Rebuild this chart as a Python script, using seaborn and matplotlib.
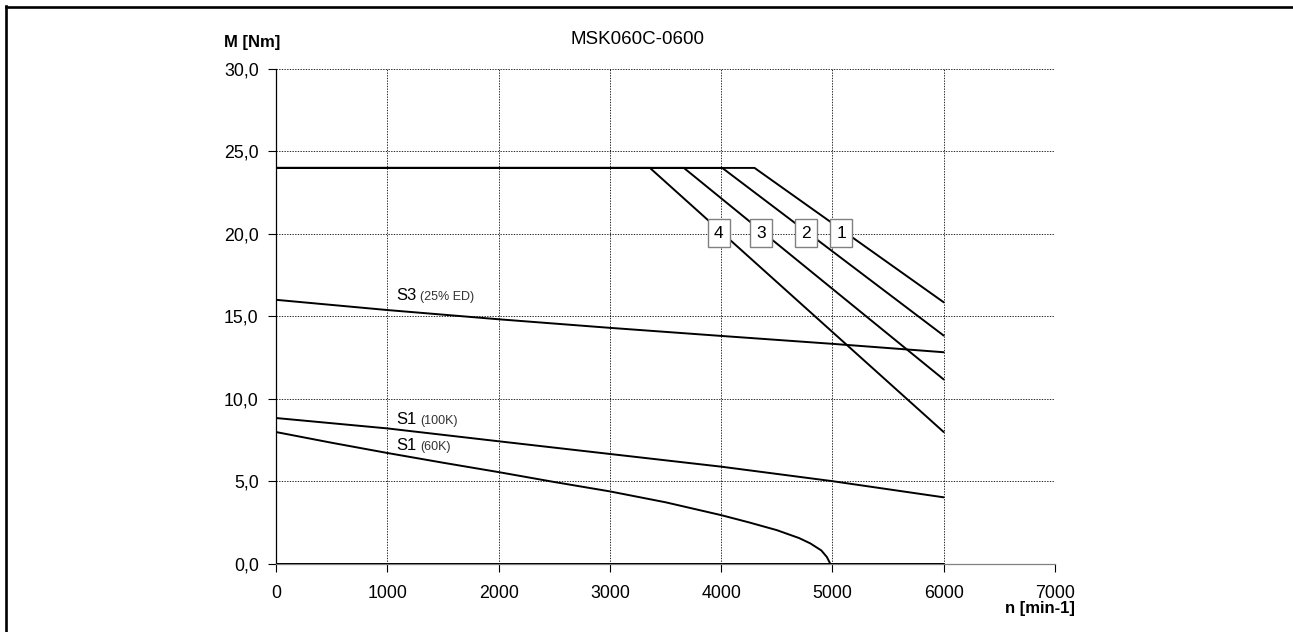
import matplotlib
matplotlib.use("Agg")
import matplotlib.pyplot as plt
from matplotlib.lines import Line2D
import seaborn as sns
import pandas as pd

# ---------------- data ----------------
title = "MSK060C-0600"
y_label = "M [Nm]"
x_label = "n [min-1]"

x_ticks = [0, 1000, 2000, 3000, 4000, 5000, 6000, 7000]
x_tick_labels = ["0", "1000", "2000", "3000", "4000", "5000", "6000", "7000"]
y_ticks = [0, 5, 10, 15, 20, 25, 30]
y_tick_labels = ["0,0", "5,0", "10,0", "15,0", "20,0", "25,0", "30,0"]

# peak torque curves (1..4)
c1_n = [0, 4300, 6000]
c1_m = [24.0, 24.0, 15.85]
c2_n = [0, 4010, 6000]
c2_m = [24.0, 24.0, 13.83]
c3_n = [0, 3665, 6000]
c3_m = [24.0, 24.0, 11.17]
c4_n = [0, 3360, 6000]
c4_m = [24.0, 24.0, 7.98]

# S3 (25% ED)
s3_n = [0, 1000, 2000, 3000, 4000, 5000, 6000]
s3_m = [16.0, 15.38, 14.82, 14.3, 13.81, 13.33, 12.82]

# S1 (100K)
s1_100_n = [0, 1000, 2000, 3000, 4000, 5000, 6000]
s1_100_m = [8.83, 8.2, 7.42, 6.65, 5.88, 5.0, 4.02]

# S1 (60K)
s1_60_n = [0, 500, 1000, 1500, 2000, 2500, 3000, 3500, 4000, 4250, 4500, 4700, 4800, 4900, 4950, 4980]
s1_60_m = [7.98, 7.33, 6.71, 6.12, 5.55, 4.95, 4.38, 3.72, 2.94, 2.5, 2.03, 1.55, 1.23, 0.8, 0.4, 0.0]

# zero baseline
base_n = [0, 6000]
base_m = [0.0, 0.0]

box_labels = ["4", "3", "2", "1"]
box_n = [3980, 4356, 4760, 5080]
box_m = [20.05, 20.05, 20.05, 20.05]

# ---------------- plotting ----------------
sns.set_theme(style="white")
plt.rcParams["font.family"] = ["Liberation Sans", "DejaVu Sans"]
plt.rcParams["text.color"] = "black"

fig = plt.figure(figsize=(12.93, 6.32), dpi=100)
ax = fig.add_axes([276 / 1293, 1 - 563.6 / 632, (1055 - 276) / 1293, (563.6 - 69) / 632])

series = [
    (c1_n, c1_m), (c2_n, c2_m), (c3_n, c3_m), (c4_n, c4_m),
    (s3_n, s3_m), (s1_100_n, s1_100_m), (s1_60_n, s1_60_m), (base_n, base_m),
]
for n, m in series:
    df = pd.DataFrame({"n": n, "m": m})
    sns.lineplot(data=df, x="n", y="m", ax=ax, color="black", linewidth=1.4,
                 sort=False, estimator=None, zorder=3)

ax.set_xlim(0, 7000)
ax.set_ylim(0, 30)
ax.set_xticks(x_ticks)
ax.set_xticklabels(x_tick_labels)
ax.set_yticks(y_ticks)
ax.set_yticklabels(y_tick_labels)
ax.set_xlabel("")
ax.set_ylabel("")

ax.grid(True, color="black", linestyle=(0, (1.6, 1.6)), linewidth=0.6)
ax.set_axisbelow(True)
ax.tick_params(axis="both", direction="out", length=5.5, width=0.8, color="black",
               labelsize=12.8, labelcolor="black")
ax.tick_params(axis="x", pad=10, bottom=True)
ax.tick_params(axis="y", pad=7, left=True)

for s in ["top", "right"]:
    ax.spines[s].set_visible(False)
ax.spines["left"].set_color("black")
ax.spines["left"].set_linewidth(0.9)
ax.spines["bottom"].set_color("#808080")
ax.spines["bottom"].set_linewidth(0.9)

# boxed curve numbers
for lab, x, y in zip(box_labels, box_n, box_m):
    ax.text(x, y, lab, ha="center", va="center", fontsize=12.5, zorder=5,
            bbox=dict(boxstyle="square,pad=0.36", fc="white", ec="#808080", lw=1.0))

# curve labels
def two_part(x, y, big, small):
    t = ax.annotate(big, (x, y), fontsize=12, ha="left", va="baseline", zorder=5)
    ax.annotate(small, xy=(1, 0), xycoords=t, xytext=(2.5, 0), textcoords="offset points",
                fontsize=9, ha="left", va="bottom", color="#333333", zorder=5)

two_part(1080, 16.0, "S3", "(25% ED)")
two_part(1080, 8.45, "S1", "(100K)")
two_part(1080, 6.87, "S1", "(60K)")

# title and axis captions
fig.text(637 / 1293, 1 - 40 / 632, title, ha="center", va="center", fontsize=13.5)
fig.text(224 / 1293, 1 - 43 / 632, y_label, ha="left", va="center", fontsize=12,
         fontweight="bold")
fig.text(1075 / 1293, 1 - 609 / 632, x_label, ha="right", va="center", fontsize=12,
         fontweight="bold")

# page frame (left and top edges)
fig.add_artist(Line2D([6 / 1293, 6 / 1293], [0, 1 - 6 / 632], transform=fig.transFigure,
                      color="black", linewidth=1.9, solid_capstyle="projecting"))
fig.add_artist(Line2D([6 / 1293, 1], [1 - 6.5 / 632, 1 - 6.5 / 632], transform=fig.transFigure,
                      color="black", linewidth=1.9, solid_capstyle="projecting"))

fig.savefig("out.png", dpi=100, facecolor="white")
